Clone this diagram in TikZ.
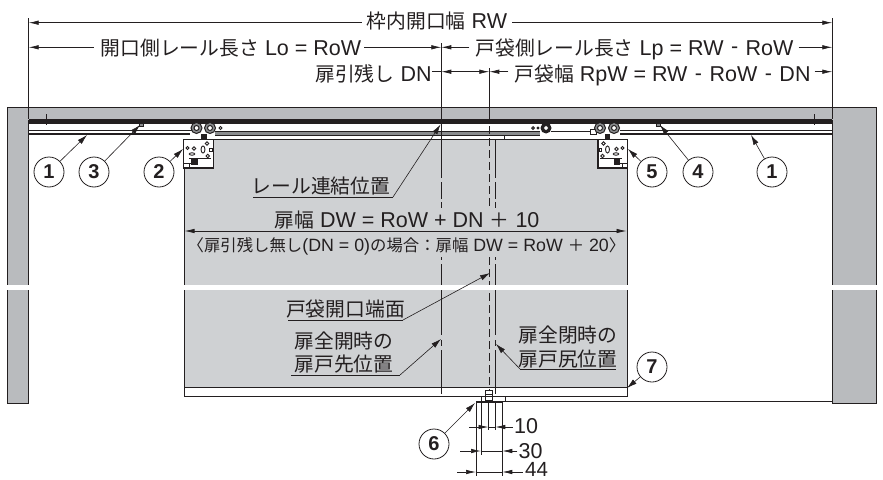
\documentclass[tikz,border=0pt]{standalone}
\usepackage{fontspec}
\setmainfont{Liberation Sans}
\newfontfamily\cjk[Scale=0.92]{Noto Sans CJK JP}
\usetikzlibrary{arrows.meta}
\definecolor{wallgray}{HTML}{B9BBBE}
\definecolor{doorgray}{HTML}{CFD1D3}
\definecolor{railgray}{HTML}{8A8C8E}
\definecolor{ink}{HTML}{231F20}
\newcommand{\J}[1]{{\cjk #1}}
\newcommand{\Mn}{\kern1.5pt\raisebox{1.5pt}{-}\kern1.5pt}
\tikzset{
  lab/.style={font=\fontsize{21.5}{24}\selectfont,text=ink,inner sep=0pt,anchor=base},
  smalllab/.style={font=\fontsize{17.8}{20}\selectfont,text=ink,inner sep=0pt,anchor=base},
  callout/.style={circle,draw=ink,line width=0.8pt,fill=white,minimum size=30pt,inner sep=0pt,font=\fontsize{20}{22}\selectfont\bfseries,text=ink},
  dim/.style={draw=ink,line width=0.7pt,-{Latex[length=10pt,width=4.5pt]}},
  dimb/.style={draw=ink,line width=0.7pt,{Latex[length=10pt,width=4.5pt]}-{Latex[length=10pt,width=4.5pt]}},
  ext/.style={draw=ink,line width=0.8pt},
  thinext/.style={draw=ink,line width=0.6pt},
  lead/.style={draw=ink,line width=0.6pt,-{Latex[length=10pt,width=5.5pt]}},
  ul/.style={draw=ink,line width=0.7pt},
  edge/.style={draw=ink,line width=1pt},
  roller/.style={draw=ink,fill=white,line width=1pt},
  hole/.style={draw=ink,fill=white,line width=0.9pt},
}
\begin{document}
\begin{tikzpicture}[x=1pt,y=-1pt]
\useasboundingbox (0,0) rectangle (883,479);
% walls
\fill[wallgray] (7,107) rectangle (876,120);
\fill[wallgray] (7,107) rectangle (28.5,403);
\fill[wallgray] (832,107) rectangle (876,403);
\draw[edge] (28.5,403) -- (7,403) -- (7,107) -- (876,107) -- (876,403) -- (832,403) -- (832,120);
\draw[edge] (28.5,120) -- (28.5,403);
% door
\fill[doorgray] (184,139.5) rectangle (627,387);
\draw[edge] (184,139.5) -- (184,396) -- (627,396) -- (627,139.5) -- cycle;
\draw[edge] (184,387) -- (627,387);
% rail
\fill[white] (28.5,124) rectangle (832,139);
\fill[ink] (28.5,119.3) rectangle (832,124.3);
\draw[draw=ink,line width=0.7pt] (28.5,130.8) -- (195,130.8);
\draw[draw=ink,line width=1.2pt] (28.5,134) -- (190,134);
\fill[railgray] (215,132) rectangle (540,135.8);
\draw[draw=ink,line width=0.7pt] (215,131.7) -- (540,131.7);
\draw[draw=ink,line width=0.9pt] (215,135.8) -- (540,135.8);
\draw[draw=ink,line width=0.7pt] (620,130.8) -- (832,130.8);
\draw[draw=ink,line width=1.2pt] (620,134) -- (832,134);
\draw[draw=ink,line width=0.7pt] (504,135.8) -- (504,139.5);
\draw[draw=ink,line width=0.7pt] (46.5,114) -- (46.5,125);
\draw[draw=ink,line width=0.7pt] (814.7,114) -- (814.7,125);
\draw[draw=ink,fill=railgray,line width=0.5pt] (139.5,123) rectangle (143,126);
\draw[draw=ink,fill=railgray,line width=0.5pt] (656.5,123) rectangle (660,126);
% hardware
\foreach \x in {196.5,210}{\draw[roller,fill=railgray] (\x,128) circle (5.5); \draw[roller] (\x,128) circle (2.5);}
\draw[roller] (220.5,128) circle (1.5);
\draw[roller] (533,128) circle (1.3);\draw[roller] (538,128) circle (0.9);
\fill[ink] (546,128) circle (5.5);\draw[roller] (546,128) circle (2.5);
\draw[draw=ink,line width=0.7pt] (551,131) -- (590,131);
\draw[draw=ink,fill=white,line width=0.7pt] (590,129) rectangle (596,134);
\foreach \x in {600,614}{\draw[roller,fill=railgray] (\x,128) circle (5.5); \draw[roller] (\x,128) circle (2.5);}
% bracket left
\draw[draw=ink,fill=white,line width=1.2pt] (183.5,139.5) rectangle (213.5,168);
\fill[ink] (201,134) rectangle (206.5,140);
\draw[hole] (207,143.5) circle (1.8);
\draw[hole] (187.5,148) circle (1.6);
\draw[hole] (194,148.5) circle (1.8);
\draw[hole] (203,149.5) ellipse (2 and 3.5);
\draw[hole] (209.5,148) rectangle (212.5,151);
\draw[hole] (207.7,156) circle (1.7);
\draw[hole] (192,154) ellipse (2.8 and 1.2);
\draw[draw=ink,line width=1pt] (189,158) -- (211,158);
\draw[draw=ink,fill=ink,line width=0.3pt] (191.5,158) rectangle (197,164);
\draw[draw=ink,line width=0.9pt] (184,163.5) -- (197,163.5);
\draw[draw=ink,line width=0.9pt] (189,163.5) -- (189,168);
% bracket right
\draw[draw=ink,fill=white,line width=1.2pt] (598,139.5) rectangle (627.5,168);
\fill[ink] (604.5,134) rectangle (610,140);
\draw[hole] (603.5,143.5) circle (1.8);
\draw[hole] (607.5,149.5) ellipse (2 and 3.5);
\draw[hole] (616.5,149) circle (1.8);
\draw[hole] (622.5,148) circle (1.6);
\draw[hole] (599,148) rectangle (601.5,151);
\draw[hole] (602.5,156) circle (1.7);
\draw[hole] (616,154) ellipse (2.8 and 1.2);
\draw[draw=ink,line width=1pt] (600,158) -- (622,158);
\draw[draw=ink,fill=ink,line width=0.3pt] (614,158) rectangle (619,164);
\draw[draw=ink,line width=0.9pt] (614,163.5) -- (627,163.5);
\draw[draw=ink,line width=0.9pt] (622,163.5) -- (622,168);
% centre lines
\foreach \x in {441.3,495.3}{
  \draw[thinext] (\x,257) -- (\x,260) (\x,264) -- (\x,335) (\x,340) -- (\x,346) (\x,350) -- (\x,394);
  \draw[thinext] (\x,182) -- (\x,199) (\x,202) -- (\x,208) (\x,140) -- (\x,178);
}
\draw[thinext] (441.3,124) -- (441.3,140);
\draw[thinext,dash pattern=on 8pt off 4pt] (489.3,126) -- (489.3,208);
\draw[thinext,dash pattern=on 8pt off 4pt] (489.3,257) -- (489.3,390);
% break
\fill[white] (0,285) rectangle (883,290);
% top extension lines
\coordinate (xL) at (28.7,18);
\coordinate (xLb) at (28.7,119);
\coordinate (xR) at (832.3,18);
\coordinate (xRb) at (832.3,119);
\coordinate (xM) at (441.3,43);
\coordinate (xMb) at (441.3,124);
\coordinate (xN) at (489.3,68);
\coordinate (xNb) at (489.3,124);
\draw[ext] (xL) -- (xLb);
\draw[ext] (xR) -- (xRb);
\draw[ext] (xM) -- (xMb);
\draw[ext] (xN) -- (xNb);
% top dimensions
\node[lab] (rw) at (437,28) {\J{枠内開口幅} RW};
\draw[dim] (rw.west |- 0,22.7) ++(-5,0) -- (xL |- 0,22.7);
\draw[dim] (rw.east |- 0,22.7) ++(5,0) -- (xR |- 0,22.7);
\node[lab] (lo) at (231,55) {\J{開口側レール長さ} Lo = RoW};
\draw[dim] (lo.west |- 0,47.3) ++(-7,0) -- (xL |- 0,47.3);
\draw[dim] (lo.east |- 0,47.3) ++(3,0) -- (xM |- 0,47.3);
\node[lab] (lp) at (634.5,55) {\J{戸袋側レール長さ} Lp = RW \Mn{} RoW};
\draw[dim] (lp.west |- 0,47.3) ++(-6,0) -- (xM |- 0,47.3);
\draw[dim] (lp.east |- 0,47.3) ++(5,0) -- (xR |- 0,47.3);
\node[lab] (dn) at (373.5,81.5) {\J{扉引残し} DN};
\draw[ext] (dn.east |- 0,71.7) -- (xM |- 0,71.7);
\draw[dimb] (xM |- 0,71.7) -- (xN |- 0,71.7);
\node[lab] (rp) at (662.5,81.5) {\J{戸袋幅} RpW = RW \Mn{} RoW \Mn{} DN};
\draw[dim] (rp.west |- 0,71.7) ++(-6,0) -- (xN |- 0,71.7);
\draw[dim] (rp.east |- 0,71.7) ++(4,0) -- (xR |- 0,71.7);
% door labels
\node[lab] (rail) at (321,193) {\J{レール連結位置}};
\coordinate (railT) at (440.5,124.5);
\coordinate (r0) at (253,197);
\coordinate (r1) at (393,197);
\draw[ul] (r0) -- (r1);
\draw[lead] (r1) -- (railT);
\node[lab] (dw) at (407,227) {\J{扉幅} DW = RoW + DN \J{＋} 10};
\coordinate (dL) at (184.5,231);
\coordinate (dR) at (626.5,231);
\draw[dimb] (dL) -- (dR);
\node[smalllab] (dw2) at (406.5,251.5) {\J{〈扉引残し無し}(DN = 0)\J{の場合：扉幅} DW = RoW \J{＋} 20\J{〉}};
\node[lab] (end) at (345.5,316) {\J{戸袋開口端面}};
\coordinate (endT) at (490,273);
\coordinate (e0) at (288,320);
\coordinate (e1) at (403,320);
\draw[ul] (e0) -- (e1);
\draw[lead] (e1) -- (endT);
\node[lab] (op1) at (344,348) {\J{扉全開時の}};
\node[lab] (op2) at (344,371.7) {\J{扉戸先位置}};
\coordinate (opT) at (441,339);
\coordinate (o0) at (291,375);
\coordinate (o1) at (400,375);
\draw[ul] (o0) -- (o1);
\draw[lead] (o1) -- (opT);
\node[lab] (cl1) at (568,342.7) {\J{扉全閉時の}};
\node[lab] (cl2) at (568,366) {\J{扉戸尻位置}};
\coordinate (clT) at (496,344);
\coordinate (c0) at (616,369);
\coordinate (c1) at (520,369);
\draw[ul] (c0) -- (c1);
\draw[lead] (c1) -- (clT);
% callouts
\node[callout] (c1l) at (49,172) {1};
\node[callout] (c3) at (94,172) {3};
\node[callout] (c2) at (159,172) {2};
\node[callout] (c5) at (652,172) {5};
\node[callout] (c4) at (698,172) {4};
\node[callout] (c1r) at (772,172) {1};
\node[callout] (c7) at (652,367) {7};
\node[callout] (c6) at (434,444) {6};
\coordinate (t1l) at (87,135);
\coordinate (t3) at (140,125);
\coordinate (t2) at (183,149);
\coordinate (t5) at (628,149);
\coordinate (t4) at (660,125);
\coordinate (t1r) at (751,135);
\coordinate (t7) at (627,388);
\coordinate (t6) at (475,403);
\foreach \a/\b in {c1l/t1l,c3/t3,c2/t2,c5/t5,c4/t4,c1r/t1r,c7/t7,c6/t6}{\draw[lead] (\a) -- (\b);}
% floor guide
\draw[draw=ink,line width=1.1pt] (500,401.7) -- (832,401.7);
\draw[draw=ink,line width=1.7pt] (476,401.7) -- (503,401.7);
\draw[draw=ink,fill=white,line width=0.9pt] (485.5,390) rectangle (492.7,400.5);
\draw[draw=ink,line width=0.7pt] (485.5,394) -- (492.7,394);
\draw[draw=ink,line width=0.6pt] (481,396) -- (505,396) (481,396) -- (481,401) (505,396) -- (505,401);
\coordinate (g1) at (476,402);
\coordinate (g2) at (481,402);
\coordinate (g3) at (488.5,402);
\coordinate (g4) at (495.3,402);
\coordinate (g5) at (502.3,402);
\draw[thinext] (g1) -- (476,476);
\draw[thinext] (g2) -- (481,455);
\draw[thinext] (g3) -- (488.5,430);
\draw[thinext] (g4) -- (495.3,430);
\draw[thinext] (g5) -- (502.3,476);
% bottom dims
\node[lab] (n10) at (526,433) {10};
\node[lab] (n30) at (530.5,458) {30};
\node[lab,font=\fontsize{20.5}{23}\selectfont] (n44) at (536.5,476) {44};
\draw[dim] (469,427) -- (g3 |- 0,427);
\draw[dim] (n10.west |- 0,427) ++(-1,0) -- (g4 |- 0,427);
\draw[thinext] (g3 |- 0,427) -- (g4 |- 0,427);
\draw[dim] (460,451) -- (g2 |- 0,451);
\draw[dim] (n30.west |- 0,451) ++(-1,0) -- (g5 |- 0,451);
\draw[thinext] (g2 |- 0,451) -- (g5 |- 0,451);
\draw[dim] (457,472) -- (g1 |- 0,472);
\draw[dim] (n44.west |- 0,472) ++(-2,0) -- (g5 |- 0,472);
\draw[thinext] (g1 |- 0,472) -- (g5 |- 0,472);
\end{tikzpicture}
\end{document}
